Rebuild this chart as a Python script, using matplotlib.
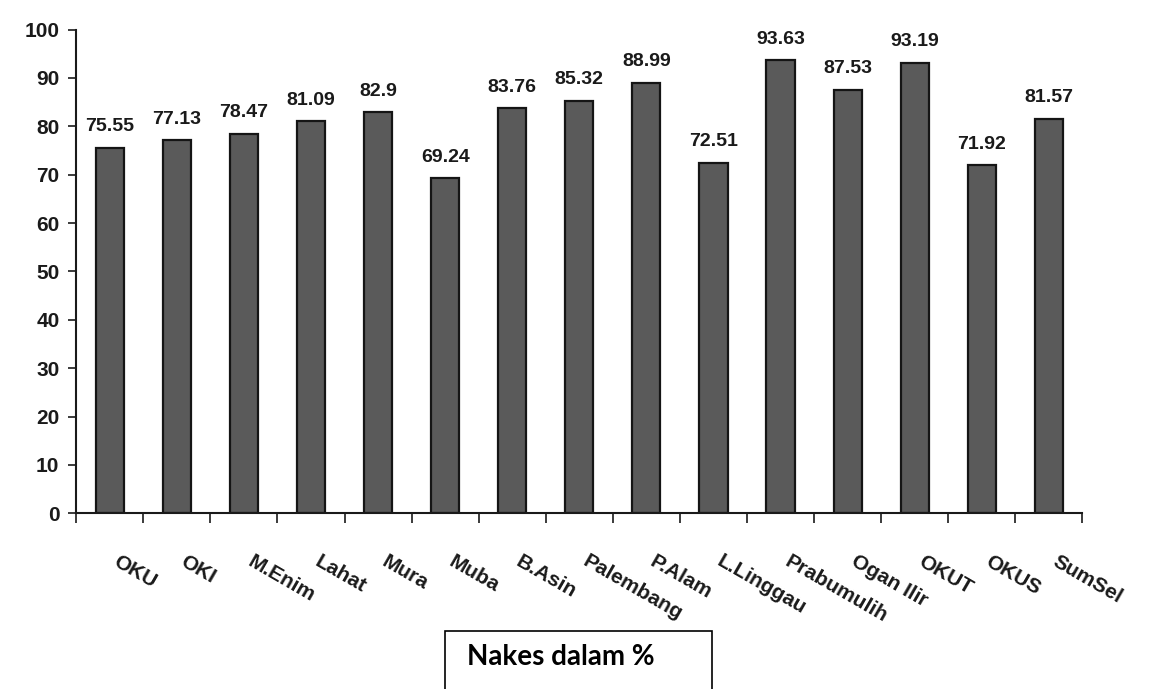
import matplotlib.pyplot as plt
import matplotlib.transforms as mtransforms
import numpy as np

districts = ['OKU', 'OKI', 'M.Enim', 'Lahat', 'Mura', 'Muba', 'B.Asin', 'Palembang',
             'P.Alam', 'L.Linggau', 'Prabumulih', 'Ogan Ilir', 'OKUT', 'OKUS', 'SumSel']
nakes = [75.55, 77.13, 78.47, 81.09, 82.9, 69.24, 83.76, 85.32,
         88.99, 72.51, 93.63, 87.53, 93.19, 71.92, 81.57]
value_labels = ['75.55', '77.13', '78.47', '81.09', '82.9', '69.24', '83.76', '85.32',
                '88.99', '72.51', '93.63', '87.53', '93.19', '71.92', '81.57']
box_text = 'Nakes dalam %'

plt.rcParams['font.family'] = ['Liberation Sans', 'DejaVu Sans']

fig = plt.figure(figsize=(11.54, 6.89), dpi=100)
ax = fig.add_axes([0.066, 0.255, 0.872, 0.702])

x = np.arange(len(districts))
bars = ax.bar(x, nakes, width=0.42, color='#5a5a5a', edgecolor='#151515', linewidth=1.6)

for b, lab in zip(bars, value_labels):
    ax.annotate(lab, (b.get_x() + b.get_width() / 2, b.get_height()),
                xytext=(0, 9), textcoords='offset points', ha='center', va='bottom',
                fontsize=14, fontweight='bold', color='#1a1a1a')

ax.set_xlim(-0.5, len(districts) - 0.5)
ax.set_ylim(0, 100)
ax.set_yticks(np.arange(0, 101, 10))
ax.tick_params(axis='y', direction='out', length=6, width=1.2, pad=6,
               labelsize=15, colors='#1a1a1a')
for t in ax.get_yticklabels():
    t.set_fontweight('bold')

# tick marks between categories, labels drawn separately
ax.set_xticks(np.arange(-0.5, len(districts), 1.0))
ax.set_xticklabels([])
ax.tick_params(axis='x', direction='out', length=7, width=1.2, colors='#1a1a1a')

trans = mtransforms.blended_transform_factory(ax.transData, ax.transAxes)
for i, name in enumerate(districts):
    ax.text(i + 0.15, -0.08, name, transform=trans, rotation=-30, ha='left', va='top',
            rotation_mode='anchor', fontsize=15, fontweight='bold', color='#1a1a1a')

for s in ['top', 'right']:
    ax.spines[s].set_visible(False)
for s in ['left', 'bottom']:
    ax.spines[s].set_linewidth(1.5)
    ax.spines[s].set_color('#1a1a1a')

# caption box at the bottom
fig.patches.append(plt.Rectangle((445 / 1154, -0.01), 267 / 1154, 65 / 689,
                                 transform=fig.transFigure, fill=False,
                                 edgecolor='black', linewidth=1.2))
fig.text(467 / 1154, 1 - 657 / 689, box_text, ha='left', va='center',
         fontsize=20, fontweight='bold', family=['Lato', 'DejaVu Sans'])

plt.savefig('out.png', dpi=100)
